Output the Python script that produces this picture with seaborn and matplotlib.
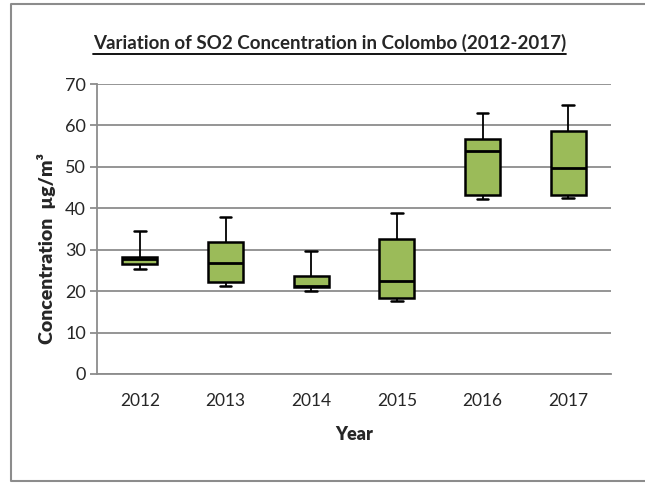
import seaborn as sns
import matplotlib.pyplot as plt
import pandas as pd
import numpy as np
from matplotlib.lines import Line2D

# five-number summaries (ug/m3)
years = ["2012", "2013", "2014", "2015", "2016", "2017"]
lows = [25.4, 21.2, 20.0, 17.7, 42.2, 42.4]
q1s = [26.6, 22.2, 21.0, 18.4, 43.2, 43.2]
medians = [27.8, 26.9, 21.3, 22.5, 53.9, 49.8]
q3s = [28.2, 31.8, 23.6, 32.7, 56.7, 58.6]
highs = [34.4, 37.9, 29.7, 38.9, 62.9, 64.9]

rows = []
for y, a, b, c, d, e in zip(years, lows, q1s, medians, q3s, highs):
    for v in (a, b, c, d, e):
        rows.append({"Year": y, "Concentration": v})
df = pd.DataFrame(rows)

sns.set_style("white")
plt.rcParams['font.family'] = ['Lato', 'DejaVu Sans']

fig = plt.figure(figsize=(6.45, 4.84), dpi=100)
ax = fig.add_axes([97 / 645, 1 - 374 / 484, 514 / 645, 290 / 484])

sns.boxplot(data=df, x="Year", y="Concentration", ax=ax, whis=(0, 100),
            width=0.41, color="#9BBB59", saturation=1, linewidth=1.8,
            linecolor="black", order=years,
            whiskerprops=dict(linewidth=1.3), capprops=dict(linewidth=1.8),
            medianprops=dict(linewidth=2.0, color="black"))

# shorter caps like excel
for line in ax.lines:
    xd = np.asarray(line.get_xdata(), dtype=float)
    yd = np.asarray(line.get_ydata(), dtype=float)
    if len(xd) == 2 and yd[0] == yd[1] and (yd[0] in lows or yd[0] in highs):
        c = xd.mean()
        line.set_xdata([c - 0.07, c + 0.07])

ax.set_ylim(0, 70)
ax.set_xlim(-0.5, 5.5)
ax.set_yticks(range(0, 71, 10))
ax.yaxis.grid(True, color="#8c8c8c", linewidth=1.3)
ax.set_axisbelow(True)
for s in ["top", "right"]:
    ax.spines[s].set_visible(False)
for s in ["left", "bottom"]:
    ax.spines[s].set_color("#8c8c8c")
    ax.spines[s].set_linewidth(1.3)

ax.set_xticks(np.arange(-0.5, 6, 1), minor=True)
ax.tick_params(axis="x", which="major", length=0, pad=14, labelsize=12.5, labelcolor="#262626")
ax.tick_params(axis="x", which="minor", length=6, width=1.3, color="#8c8c8c", direction="out")
ax.tick_params(axis="y", length=5, width=1.3, color="#8c8c8c", direction="out", left=True,
               labelsize=13, labelcolor="#262626", pad=3)

ax.set_xlabel("Year", fontsize=13, fontweight="heavy", labelpad=12)
ax.set_ylabel("")
fig.text(47 / 645, 1 - 249 / 484, "Concentration  µg/m³", rotation=90, ha="center",
         va="center", fontsize=14, fontweight="heavy")

title = fig.text(93 / 645, 1 - 43 / 484, "Variation of SO2 Concentration in Colombo (2012-2017)",
                 ha="left", va="center", fontsize=13.5, fontweight="bold")
fig.canvas.draw()
bb = title.get_window_extent().transformed(fig.transFigure.inverted())
fig.add_artist(Line2D([bb.x0, bb.x1], [bb.y0 - 0.004, bb.y0 - 0.004], color="black",
                      linewidth=1.3, transform=fig.transFigure))

# chart border (left, top, bottom only; right side runs off the image)
x0, y0, y1 = 11 / 645, 1 - 481 / 484, 1 - 4 / 484
fig.add_artist(Line2D([1.0, x0, x0, 1.0], [y1, y1, y0, y0], color="#8c8c8c",
                      linewidth=1.5, transform=fig.transFigure))

fig.savefig("out.png", dpi=100)
